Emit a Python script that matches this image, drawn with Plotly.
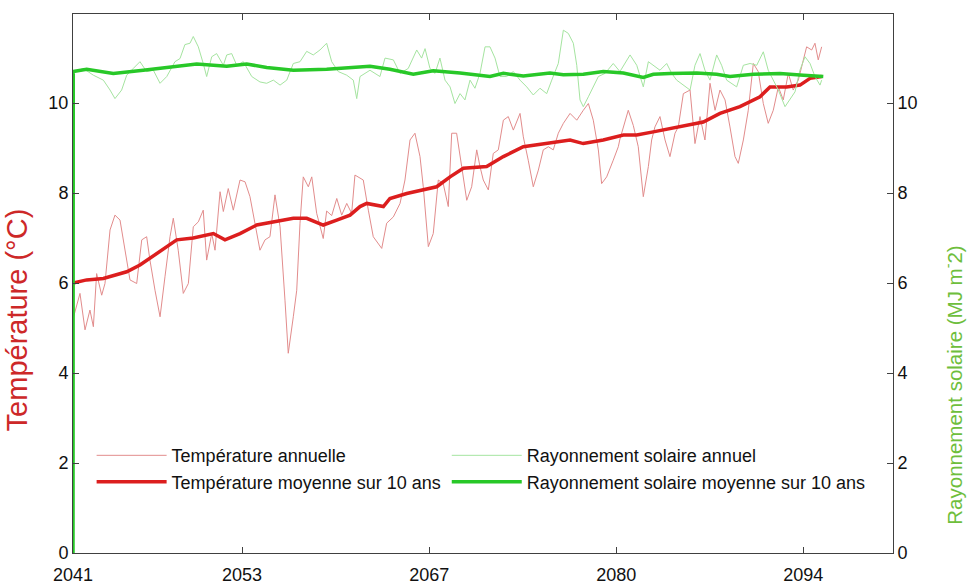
import plotly.graph_objects as go

# ---------------- data ----------------
temp_year_x = [2041.0, 2041.51, 2041.88, 2042.24, 2042.49, 2042.73, 2043.10, 2043.34, 2043.71, 2044.07,
               2044.44, 2044.80, 2045.17, 2045.66, 2046.03, 2046.39, 2046.63, 2047.00, 2047.37, 2047.73,
               2048.10, 2048.34, 2048.70, 2049.07, 2049.44, 2049.80, 2050.17, 2050.53, 2050.78, 2051.15,
               2051.39, 2051.76, 2052.00, 2052.36, 2052.73, 2053.22, 2053.59, 2053.95, 2054.32, 2054.68,
               2055.05, 2055.41, 2055.78, 2056.15, 2056.51, 2056.75, 2057.12, 2057.37, 2057.61, 2057.85,
               2058.22, 2058.47, 2058.83, 2059.31, 2059.56, 2059.93, 2060.30, 2060.66, 2061.03, 2061.39,
               2061.63, 2062.24, 2062.61, 2062.97, 2063.59, 2063.95, 2064.44, 2064.93, 2065.29, 2065.66,
               2066.02, 2066.39, 2066.63, 2067.00, 2067.36, 2067.73, 2068.09, 2068.46, 2068.71, 2069.07,
               2069.44, 2069.81, 2070.17, 2070.54, 2070.78, 2071.02, 2071.39, 2071.75, 2072.12, 2072.49,
               2072.85, 2073.22, 2073.71, 2073.95, 2074.31, 2074.68, 2075.05, 2075.41, 2075.78, 2076.14,
               2076.51, 2076.88, 2077.37, 2077.86, 2078.34, 2078.71, 2079.07, 2079.44, 2079.68, 2080.05,
               2080.53, 2080.90, 2081.02, 2081.63, 2082.00, 2082.36, 2082.73, 2083.10, 2083.34, 2083.58,
               2083.95, 2084.32, 2084.68, 2085.05, 2085.29, 2085.66, 2086.15, 2086.51, 2086.88, 2087.24,
               2087.61, 2087.98, 2088.34, 2088.71, 2089.07, 2089.44, 2089.68, 2090.05, 2090.41, 2090.78,
               2091.14, 2091.51, 2091.87, 2092.24, 2092.61, 2092.97, 2093.34, 2093.70, 2094.07, 2094.44,
               2094.68, 2095.05, 2095.29, 2095.53, 2095.78]
temp_year_v = [5.20, 5.77, 4.96, 5.40, 5.03, 6.21, 5.73, 5.99, 7.18, 7.51,
               7.40, 6.73, 6.07, 5.99, 6.96, 7.03, 6.51, 5.84, 5.25, 6.14,
               7.03, 7.44, 6.73, 5.77, 5.99, 7.25, 7.36, 7.62, 6.51, 7.10,
               6.73, 8.03, 7.59, 8.10, 7.62, 8.29, 8.25, 7.92, 7.33, 6.73,
               6.96, 7.03, 7.96, 7.25, 5.62, 4.44, 5.25, 5.84, 7.33, 8.36,
               8.14, 8.36, 7.55, 6.99, 7.60, 7.50, 7.88, 7.51, 7.77, 7.55,
               8.40, 8.29, 7.62, 7.03, 6.77, 7.33, 7.47, 7.77, 8.29, 9.18,
               9.33, 8.81, 8.14, 6.81, 7.10, 8.29, 8.21, 7.70, 9.33, 9.33,
               8.59, 7.84, 8.14, 8.96, 8.59, 8.29, 8.07, 8.88, 8.96, 9.62,
               9.70, 9.40, 9.77, 9.25, 8.73, 8.14, 8.51, 8.96, 9.03, 8.96,
               9.33, 9.55, 9.77, 9.62, 9.84, 9.99, 9.62, 8.96, 8.21, 8.36,
               8.73, 9.03, 9.20, 9.84, 9.50, 9.03, 7.92, 8.59, 9.18, 9.47,
               9.70, 9.18, 8.81, 9.33, 9.47, 10.21, 10.29, 9.10, 9.70, 9.18,
               10.44, 9.84, 10.29, 10.07, 9.47, 8.81, 8.66, 9.18, 9.84, 10.88,
               10.70, 9.99, 9.55, 9.84, 10.36, 10.07, 10.66, 10.29, 10.51, 10.96,
               11.25, 11.18, 11.33, 10.96, 11.25]

temp_mean_x = [2041.0, 2042.0, 2043.22, 2044.93, 2045.90, 2047.12, 2048.59, 2049.80, 2051.27, 2052.12,
               2053.22, 2054.44, 2055.66, 2057.12, 2058.10, 2059.31, 2060.30, 2061.27, 2062.00, 2062.49,
               2063.71, 2064.19, 2065.42, 2067.61, 2068.59, 2069.56, 2071.27, 2072.49, 2073.95, 2074.93,
               2076.39, 2077.37, 2078.34, 2079.80, 2081.27, 2082.25, 2083.46, 2085.41, 2087.12, 2088.34,
               2089.80, 2091.27, 2092.00, 2093.22, 2094.19, 2094.93, 2095.78]
temp_mean_v = [6.00, 6.07, 6.10, 6.25, 6.40, 6.66, 6.96, 7.00, 7.10, 6.96,
               7.10, 7.29, 7.36, 7.44, 7.44, 7.29, 7.40, 7.51, 7.70, 7.77,
               7.70, 7.88, 7.99, 8.14, 8.36, 8.55, 8.59, 8.81, 9.03, 9.07,
               9.14, 9.18, 9.10, 9.18, 9.29, 9.29, 9.36, 9.47, 9.58, 9.77,
               9.92, 10.14, 10.36, 10.36, 10.40, 10.55, 10.59]

rad_year_x = [2041.15, 2041.75, 2042.49, 2043.22, 2043.71, 2044.07, 2044.56, 2044.93, 2045.41, 2045.90,
              2046.39, 2046.88, 2047.37, 2047.86, 2048.46, 2048.83, 2049.19, 2049.56, 2049.80, 2050.17,
              2050.53, 2050.78, 2051.15, 2051.51, 2052.00, 2052.25, 2052.61, 2052.98, 2053.46, 2054.08,
              2054.68, 2055.17, 2055.66, 2056.15, 2056.64, 2057.12, 2057.61, 2058.10, 2058.58, 2059.07,
              2059.56, 2059.93, 2060.41, 2061.03, 2061.51, 2061.76, 2062.00, 2062.73, 2063.46, 2063.83,
              2064.44, 2064.93, 2065.53, 2066.15, 2066.51, 2066.76, 2067.12, 2067.49, 2067.85, 2068.22,
              2068.59, 2068.95, 2069.32, 2069.68, 2070.05, 2070.41, 2070.78, 2071.15, 2071.51, 2071.88,
              2072.24, 2072.73, 2073.22, 2073.71, 2074.20, 2074.68, 2075.17, 2075.66, 2076.03, 2076.51,
              2076.88, 2077.24, 2077.61, 2077.86, 2078.10, 2078.34, 2078.71, 2079.07, 2079.44, 2079.93,
              2080.53, 2081.02, 2081.76, 2082.25, 2082.73, 2083.10, 2083.46, 2083.95, 2084.44, 2084.81,
              2085.17, 2085.66, 2086.15, 2086.51, 2086.88, 2087.24, 2087.61, 2088.10, 2088.46, 2088.83,
              2089.20, 2089.56, 2090.05, 2090.54, 2091.03, 2091.51, 2091.87, 2092.24, 2092.61, 2093.10,
              2093.46, 2093.83, 2094.19, 2094.56, 2094.93, 2095.29, 2095.66, 2095.78]
rad_year_v = [10.70, 10.77, 10.62, 10.51, 10.29, 10.10, 10.29, 10.62, 10.77, 10.92,
              10.70, 10.73, 10.44, 10.59, 10.92, 10.99, 11.30, 11.33, 11.48, 11.25,
              10.88, 10.59, 11.03, 11.10, 10.84, 11.07, 11.10, 10.84, 10.92, 10.59,
              10.47, 10.44, 10.51, 10.40, 10.51, 10.88, 10.92, 11.15, 11.07, 11.18,
              11.33, 10.92, 10.70, 10.62, 10.51, 10.10, 10.59, 10.73, 10.59, 11.00,
              10.96, 10.66, 10.77, 11.18, 11.00, 11.21, 10.77, 10.66, 11.00, 10.51,
              10.36, 9.99, 10.21, 10.07, 10.51, 10.33, 10.66, 11.25, 11.25, 11.00,
              10.59, 10.59, 10.70, 10.51, 10.36, 10.18, 10.33, 10.21, 10.51, 10.88,
              11.62, 11.55, 11.33, 10.84, 10.07, 9.92, 10.14, 10.36, 10.59, 10.66,
              10.88, 10.70, 11.07, 10.84, 10.36, 10.92, 10.84, 10.73, 10.88, 10.66,
              10.51, 10.40, 10.29, 10.84, 11.10, 10.73, 10.51, 11.07, 10.84, 10.51,
              10.44, 10.36, 10.84, 10.88, 10.84, 11.14, 10.73, 10.51, 10.29, 9.92,
              10.07, 10.25, 10.73, 11.03, 10.88, 10.59, 10.40, 10.51]

rad_mean_x = [2041.0, 2041.02, 2042.0, 2043.95, 2046.14, 2048.10, 2050.05, 2052.25, 2053.71, 2055.17,
              2057.12, 2059.56, 2062.00, 2062.73, 2064.19, 2065.90, 2067.36, 2069.32, 2071.51, 2072.49,
              2073.95, 2075.90, 2076.88, 2078.34, 2079.80, 2081.27, 2082.73, 2083.46, 2084.68, 2086.64,
              2088.10, 2089.07, 2090.78, 2092.73, 2094.44, 2095.90]
rad_mean_v = [0.0, 10.70, 10.75, 10.66, 10.73, 10.81, 10.87, 10.82, 10.87, 10.79,
              10.73, 10.75, 10.81, 10.82, 10.75, 10.64, 10.72, 10.67, 10.59, 10.66,
              10.60, 10.67, 10.63, 10.64, 10.70, 10.67, 10.57, 10.64, 10.66, 10.67,
              10.64, 10.59, 10.64, 10.66, 10.62, 10.59]

x_tick_vals = [2041.0, 2053.37, 2067.06, 2080.75, 2094.44]
x_tick_text = ["2041", "2053", "2067", "2080", "2094"]
y_tick_vals = [0, 2, 4, 6, 8, 10]

names = ["Température annuelle", "Température moyenne sur 10 ans",
         "Rayonnement solaire annuel", "Rayonnement solaire moyenne sur 10 ans"]

# ---------------- figure ----------------
FONT = "Liberation Sans, Arial, sans-serif"
fig = go.Figure()

fig.add_trace(go.Scatter(x=temp_year_x, y=temp_year_v, mode="lines", name=names[0],
                         line=dict(color="rgb(226,140,140)", width=1), legend="legend"))
fig.add_trace(go.Scatter(x=rad_year_x, y=rad_year_v, mode="lines", name=names[2],
                         line=dict(color="rgb(165,228,160)", width=1), legend="legend2", yaxis="y2"))
fig.add_trace(go.Scatter(x=temp_mean_x, y=temp_mean_v, mode="lines", name=names[1],
                         line=dict(color="rgb(220,30,30)", width=3.5), legend="legend"))
fig.add_trace(go.Scatter(x=rad_mean_x, y=rad_mean_v, mode="lines", name=names[3],
                         line=dict(color="rgb(40,200,40)", width=3.5), legend="legend2", yaxis="y2"))

axis_common = dict(showline=True, linecolor="#404040", linewidth=1, ticks="inside",
                   ticklen=6, tickcolor="#404040", showgrid=False, zeroline=False,
                   automargin=False, tickfont=dict(family=FONT, size=18, color="#111"))

legend_common = dict(yanchor="top", xanchor="left", bgcolor="rgba(0,0,0,0)",
                     font=dict(family=FONT, size=18, color="#111"), tracegroupgap=0,
                     traceorder="normal", itemwidth=70)

fig.update_layout(
    width=968, height=586,
    margin=dict(l=73, r=75, t=14, b=33),
    paper_bgcolor="white", plot_bgcolor="white",
    xaxis=dict(range=[2041, 2101], tickvals=x_tick_vals, ticktext=x_tick_text,
               mirror="ticks", ticklabelstandoff=5, **axis_common),
    yaxis=dict(range=[0, 11.98], tickvals=y_tick_vals, **axis_common),
    yaxis2=dict(range=[0, 11.98], tickvals=y_tick_vals, overlaying="y", side="right",
                **axis_common),
    legend=dict(x=0.0227, y=0.215, **legend_common),
    legend2=dict(x=0.4558, y=0.215, **legend_common),
    annotations=[
        dict(text="Température (°C)", textangle=-90, xref="paper", yref="paper",
             x=-0.068, y=0.432, showarrow=False, xanchor="center", yanchor="middle",
             font=dict(family=FONT, size=29, color="rgb(205,40,40)")),
        dict(text="Rayonnement solaire (MJ m<sup>-</sup>2)", textangle=-90, xref="paper",
             yref="paper", x=1.073, y=0.312, showarrow=False, xanchor="center",
             yanchor="middle", font=dict(family=FONT, size=20.5, color="rgb(110,190,60)")),
    ],
)

fig.write_html("out.html", config={"displayModeBar": False},
               post_script="document.body.style.margin='0';")
